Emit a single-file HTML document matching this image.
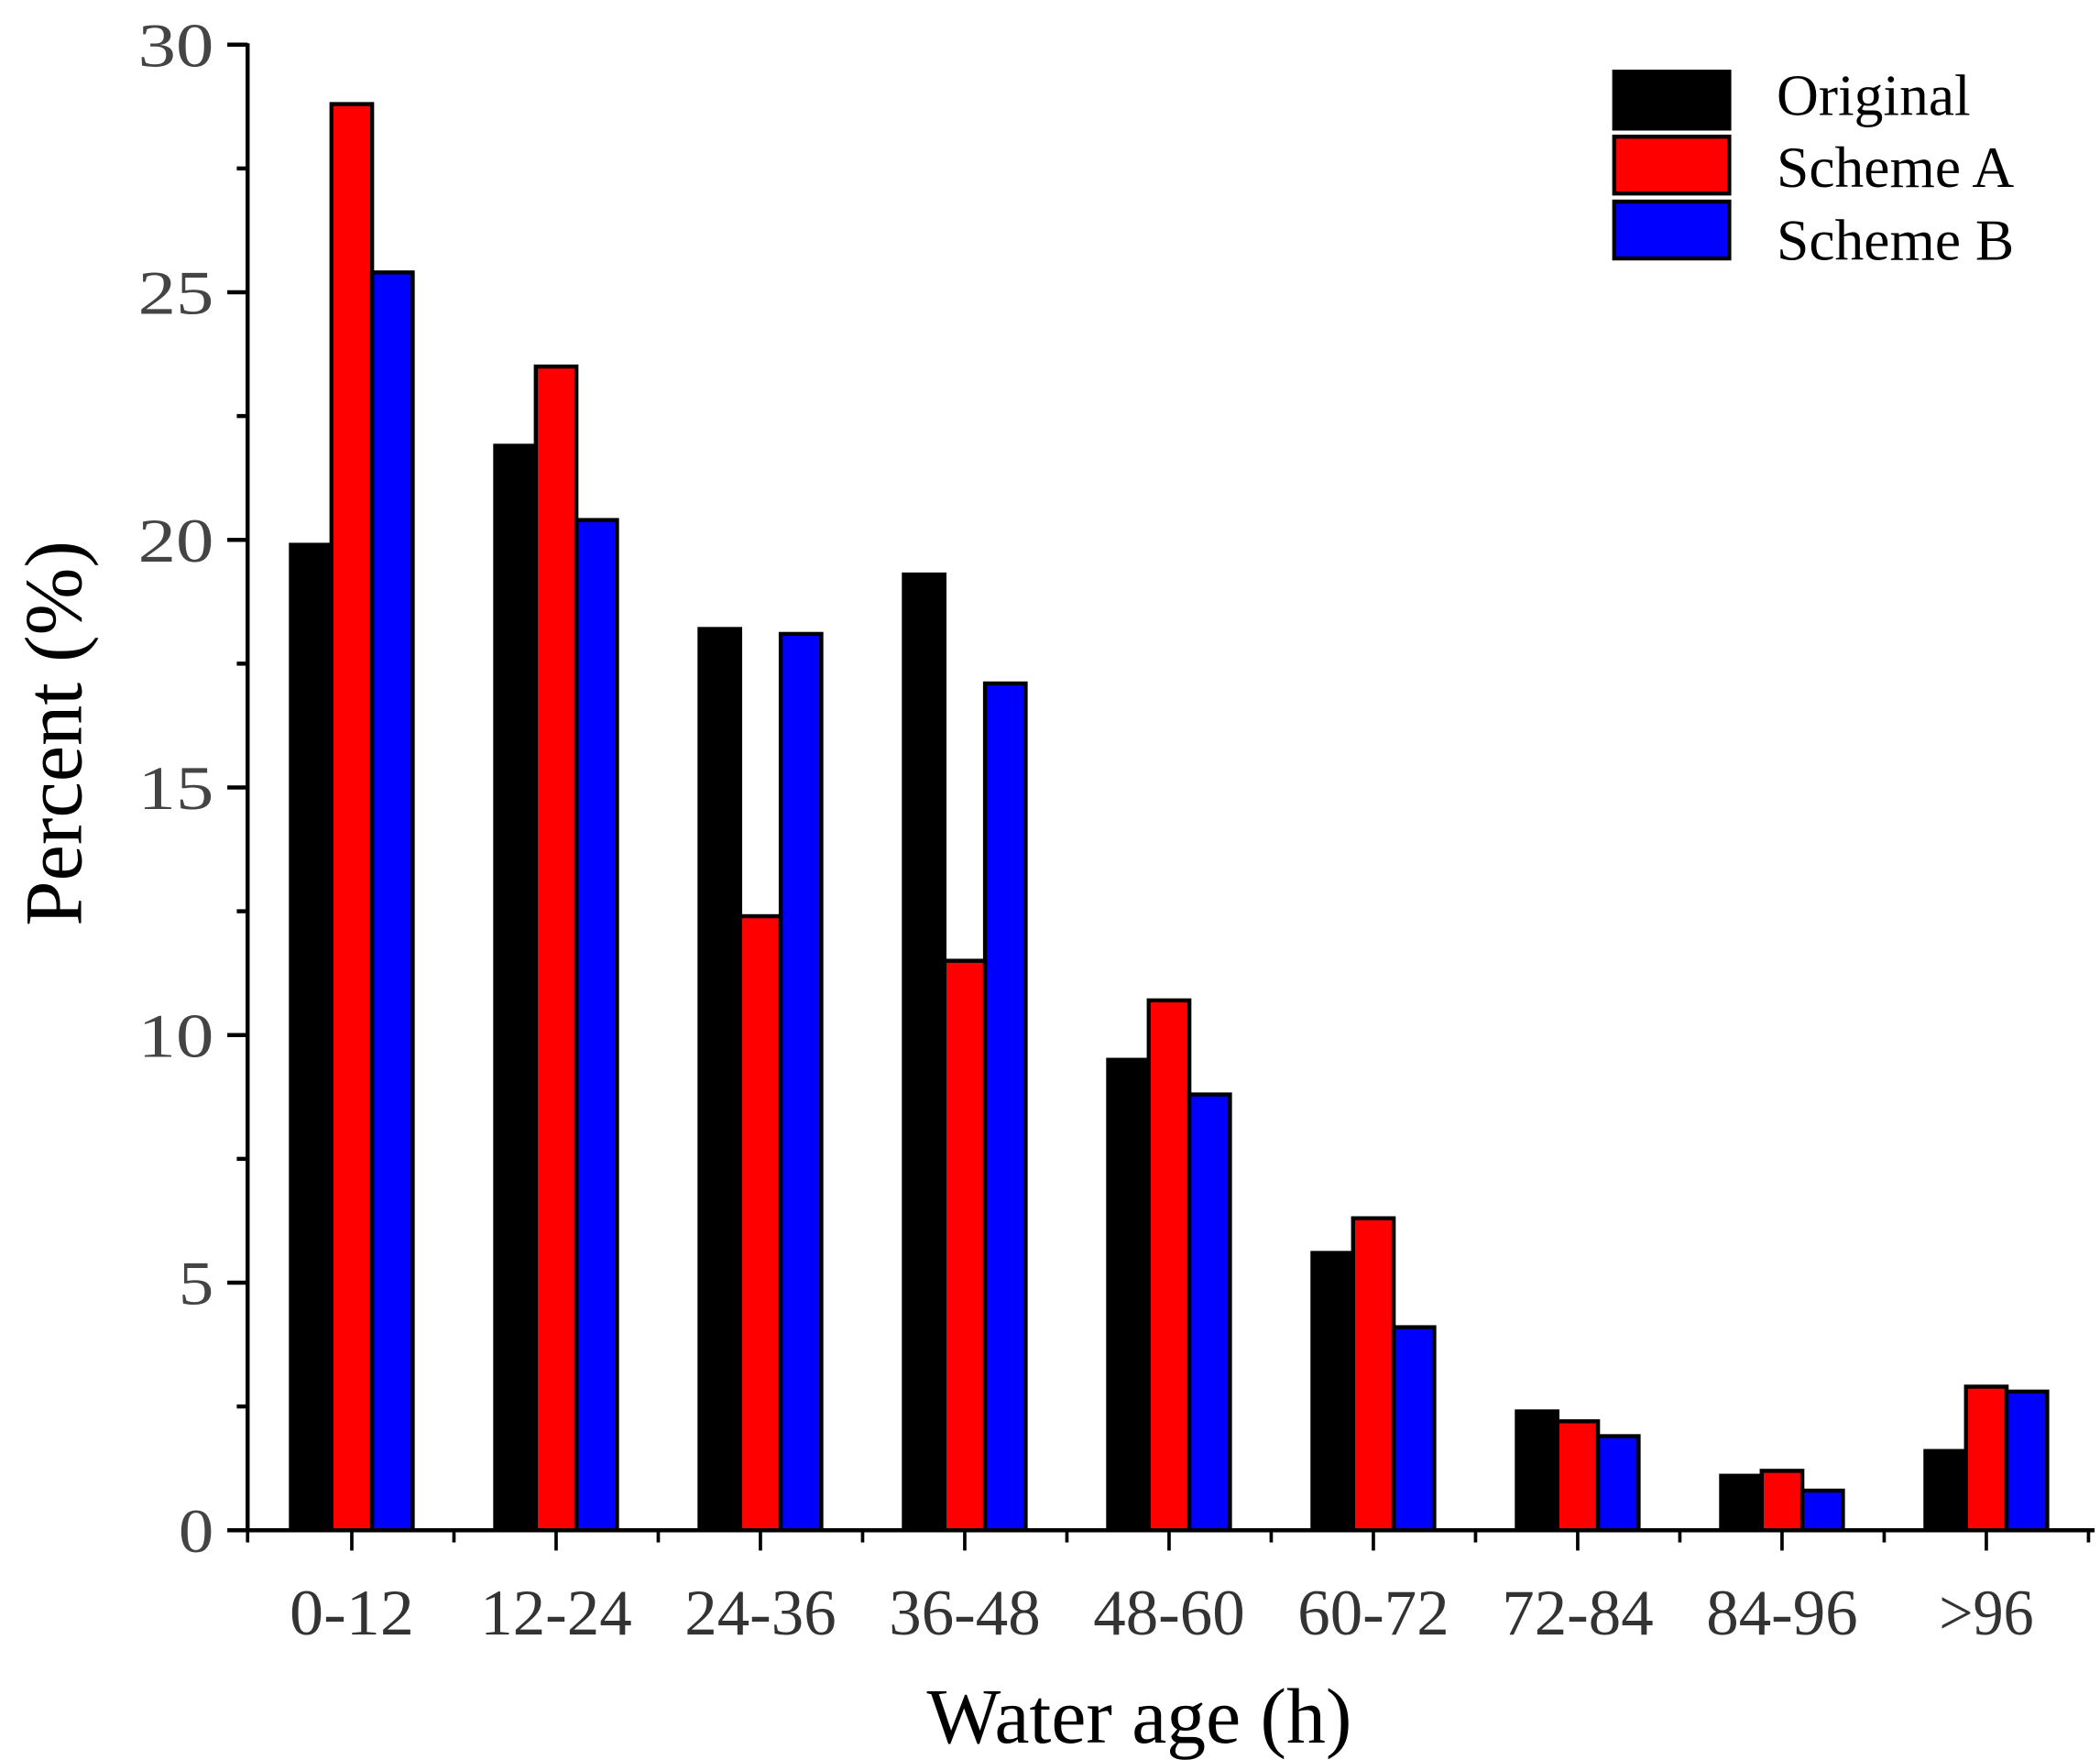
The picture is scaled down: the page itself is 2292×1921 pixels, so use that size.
<!DOCTYPE html>
<html><head><meta charset="utf-8"><style>html,body{margin:0;padding:0;background:#fff}svg{display:block}</style></head>
<body>
<svg width="2292" height="1921" viewBox="0 0 1552 1300.8" preserveAspectRatio="none" xmlns="http://www.w3.org/2000/svg" font-family="Liberation Serif, serif">
<g stroke="#000" stroke-width="3" fill="none">
<line x1="183" y1="32" x2="183" y2="1132"/>
<line x1="168" y1="33" x2="183" y2="33"/>
<line x1="168" y1="216" x2="183" y2="216"/>
<line x1="168" y1="399" x2="183" y2="399"/>
<line x1="168" y1="582" x2="183" y2="582"/>
<line x1="168" y1="765" x2="183" y2="765"/>
<line x1="168" y1="948" x2="183" y2="948"/>
<line x1="168" y1="1131" x2="1548" y2="1131"/>
<line x1="175" y1="124.5" x2="183" y2="124.5"/>
<line x1="175" y1="307.5" x2="183" y2="307.5"/>
<line x1="175" y1="490.5" x2="183" y2="490.5"/>
<line x1="175" y1="673.5" x2="183" y2="673.5"/>
<line x1="175" y1="856.5" x2="183" y2="856.5"/>
<line x1="175" y1="1039.5" x2="183" y2="1039.5"/>
</g>
<g stroke="#000" stroke-width="2.5" id="xt"></g>
<g fill="#444" font-size="46" text-anchor="end">
<text x="158" y="49" textLength="56" lengthAdjust="spacingAndGlyphs">30</text>
<text x="158" y="232" textLength="56" lengthAdjust="spacingAndGlyphs">25</text>
<text x="158" y="415" textLength="56" lengthAdjust="spacingAndGlyphs">20</text>
<text x="158" y="598" textLength="56" lengthAdjust="spacingAndGlyphs">15</text>
<text x="158" y="781" textLength="56" lengthAdjust="spacingAndGlyphs">10</text>
<text x="158" y="964" textLength="26" lengthAdjust="spacingAndGlyphs">5</text>
<text x="158" y="1147" textLength="26" lengthAdjust="spacingAndGlyphs">0</text>
</g>
<g id="bars" stroke="#000" stroke-width="3"></g>
<g fill="#333" font-size="48" text-anchor="middle" id="xl"></g>
<text x="842" y="1288" font-size="58" text-anchor="middle">Water age (h)</text>
<text transform="translate(60,542) rotate(-90)" font-size="60" text-anchor="middle">Percent (%)</text>
<g stroke="#000" stroke-width="3">
<rect x="1193" y="53" width="85" height="42" fill="#000"/>
<rect x="1193" y="101" width="85" height="42" fill="#f00"/>
<rect x="1193" y="149" width="85" height="42" fill="#00f"/>
</g>
<g font-size="43" fill="#000">
<text x="1313" y="85">Original</text><text x="1313" y="138">Scheme A</text><text x="1313" y="192">Scheme B</text>
</g>
<script>
var d=[[19.9,28.8,25.4],[21.9,23.5,20.4],[18.2,12.4,18.1],[19.3,11.5,17.1],[9.5,10.7,8.8],[5.6,6.3,4.1],[2.4,2.2,1.9],[1.1,1.2,0.8],[1.6,2.9,2.8]];
var lab=["0-12","12-24","24-36","36-48","48-60","60-72","72-84","84-96",">96"];
var c=["#000","#f00","#00f"],ns="http://www.w3.org/2000/svg";
var B=document.getElementById("bars"),X=document.getElementById("xl"),T=document.getElementById("xt");
function el(p,t,a){var e=document.createElementNS(ns,t);for(var k in a)e.setAttribute(k,a[k]);p.appendChild(e);return e;}
for(var i=0;i<9;i++){var cx=260+i*151;
 for(var j=0;j<3;j++){var v=d[i][j],y=1131-v*36.6;el(B,"rect",{x:cx-45+j*30,y:y,width:30,height:1131-y,fill:c[j]});}
 el(T,"line",{x1:cx,y1:1131,x2:cx,y2:1146});
 el(T,"line",{x1:cx+75.5,y1:1131,x2:cx+75.5,y2:1140});
 var t=el(X,"text",{x:cx,y:1208,textLength:(i==0?92:(i==8?70:112)),lengthAdjust:"spacingAndGlyphs"});t.textContent=lab[i];
}
el(T,"line",{x1:183,y1:1131,x2:183,y2:1140});
</script>
</svg>
</body></html>
